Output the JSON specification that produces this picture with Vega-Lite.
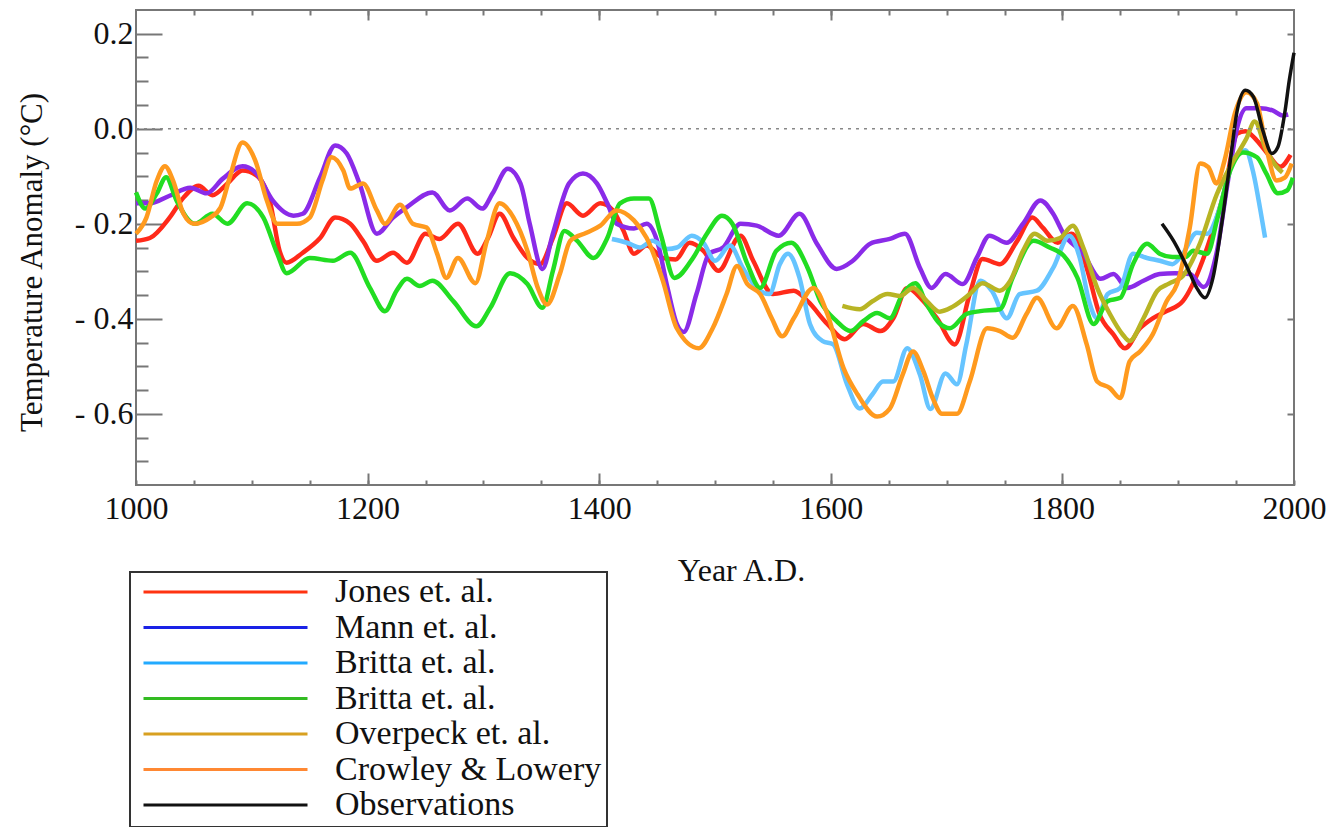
{
  "$schema": "https://vega.github.io/schema/vega-lite/v6.json",
  "width": 1158,
  "height": 475,
  "autosize": {"type": "none"},
  "padding": {"left": 136, "top": 10, "right": 42, "bottom": 342},
  "background": "white",
  "config": {
    "font": "Liberation Serif",
    "view": {"stroke": "#777777", "strokeWidth": 2},
    "axis": {
      "domain": false,
      "grid": false,
      "tickColor": "#777777",
      "tickWidth": 2,
      "labelFont": "Liberation Serif",
      "labelFontSize": 32,
      "labelColor": "#111111",
      "titleFont": "Liberation Serif",
      "titleFontWeight": "normal",
      "titleColor": "#111111"
    },
    "legend": {
      "orient": "none",
      "legendX": -6,
      "legendY": 562,
      "symbolType": "stroke",
      "symbolSize": 26896,
      "symbolStrokeWidth": 3,
      "symbolOffset": 7,
      "labelFont": "Liberation Serif, Times New Roman, serif",
      "labelFontSize": 34,
      "labelColor": "#111111",
      "labelOffset": 26,
      "labelLimit": 0,
      "clipHeight": 30,
      "rowPadding": 1.5,
      "padding": 5,
      "strokeColor": "#333333",
      "strokeWidth": 2,
      "fillColor": "white"
    }
  },
  "data": {
    "values": [
      {"series":"Jones et. al.","year":1000,"value":-0.236},{"series":"Jones et. al.","year":1012,"value":-0.23},{"series":"Jones et. al.","year":1029,"value":-0.187},{"series":"Jones et. al.","year":1041,"value":-0.145},{"series":"Jones et. al.","year":1054,"value":-0.12},{"series":"Jones et. al.","year":1066,"value":-0.14},{"series":"Jones et. al.","year":1079,"value":-0.115},{"series":"Jones et. al.","year":1092,"value":-0.088},{"series":"Jones et. al.","year":1104,"value":-0.098},{"series":"Jones et. al.","year":1116,"value":-0.157},{"series":"Jones et. al.","year":1124,"value":-0.257},{"series":"Jones et. al.","year":1130,"value":-0.282},{"series":"Jones et. al.","year":1144,"value":-0.261},{"series":"Jones et. al.","year":1159,"value":-0.23},{"series":"Jones et. al.","year":1172,"value":-0.187},{"series":"Jones et. al.","year":1185,"value":-0.2},{"series":"Jones et. al.","year":1196,"value":-0.236},{"series":"Jones et. al.","year":1208,"value":-0.278},{"series":"Jones et. al.","year":1222,"value":-0.261},{"series":"Jones et. al.","year":1234,"value":-0.282},{"series":"Jones et. al.","year":1250,"value":-0.221},{"series":"Jones et. al.","year":1262,"value":-0.232},{"series":"Jones et. al.","year":1278,"value":-0.2},{"series":"Jones et. al.","year":1295,"value":-0.263},{"series":"Jones et. al.","year":1304,"value":-0.23},{"series":"Jones et. al.","year":1314,"value":-0.179},{"series":"Jones et. al.","year":1326,"value":-0.23},{"series":"Jones et. al.","year":1338,"value":-0.272},{"series":"Jones et. al.","year":1349,"value":-0.285},{"series":"Jones et. al.","year":1360,"value":-0.23},{"series":"Jones et. al.","year":1372,"value":-0.157},{"series":"Jones et. al.","year":1386,"value":-0.183},{"series":"Jones et. al.","year":1401,"value":-0.157},{"series":"Jones et. al.","year":1412,"value":-0.172},{"series":"Jones et. al.","year":1421,"value":-0.215},{"series":"Jones et. al.","year":1430,"value":-0.263},{"series":"Jones et. al.","year":1441,"value":-0.246},{"series":"Jones et. al.","year":1455,"value":-0.272},{"series":"Jones et. al.","year":1466,"value":-0.275},{"series":"Jones et. al.","year":1478,"value":-0.24},{"series":"Jones et. al.","year":1490,"value":-0.257},{"series":"Jones et. al.","year":1503,"value":-0.299},{"series":"Jones et. al.","year":1522,"value":-0.225},{"series":"Jones et. al.","year":1533,"value":-0.278},{"series":"Jones et. al.","year":1550,"value":-0.348},{"series":"Jones et. al.","year":1568,"value":-0.341},{"series":"Jones et. al.","year":1580,"value":-0.363},{"series":"Jones et. al.","year":1597,"value":-0.411},{"series":"Jones et. al.","year":1612,"value":-0.443},{"series":"Jones et. al.","year":1628,"value":-0.411},{"series":"Jones et. al.","year":1643,"value":-0.426},{"series":"Jones et. al.","year":1654,"value":-0.399},{"series":"Jones et. al.","year":1666,"value":-0.335},{"series":"Jones et. al.","year":1680,"value":-0.363},{"series":"Jones et. al.","year":1692,"value":-0.4},{"series":"Jones et. al.","year":1707,"value":-0.454},{"series":"Jones et. al.","year":1720,"value":-0.348},{"series":"Jones et. al.","year":1731,"value":-0.274},{"series":"Jones et. al.","year":1746,"value":-0.285},{"series":"Jones et. al.","year":1761,"value":-0.236},{"series":"Jones et. al.","year":1774,"value":-0.187},{"series":"Jones et. al.","year":1783,"value":-0.208},{"series":"Jones et. al.","year":1796,"value":-0.24},{"series":"Jones et. al.","year":1808,"value":-0.221},{"series":"Jones et. al.","year":1821,"value":-0.293},{"series":"Jones et. al.","year":1832,"value":-0.39},{"series":"Jones et. al.","year":1844,"value":-0.433},{"series":"Jones et. al.","year":1854,"value":-0.462},{"series":"Jones et. al.","year":1867,"value":-0.42},{"series":"Jones et. al.","year":1878,"value":-0.399},{"series":"Jones et. al.","year":1890,"value":-0.384},{"series":"Jones et. al.","year":1904,"value":-0.363},{"series":"Jones et. al.","year":1921,"value":-0.278},{"series":"Jones et. al.","year":1929,"value":-0.221},{"series":"Jones et. al.","year":1940,"value":-0.13},{"series":"Jones et. al.","year":1951,"value":-0.01},{"series":"Jones et. al.","year":1958,"value":-0.005},{"series":"Jones et. al.","year":1968,"value":-0.025},{"series":"Jones et. al.","year":1978,"value":-0.055},{"series":"Jones et. al.","year":1988,"value":-0.08},{"series":"Jones et. al.","year":1997,"value":-0.055},

      {"series":"Mann et. al.","year":1000,"value":-0.157},{"series":"Mann et. al.","year":1012,"value":-0.157},{"series":"Mann et. al.","year":1029,"value":-0.141},{"series":"Mann et. al.","year":1047,"value":-0.124},{"series":"Mann et. al.","year":1061,"value":-0.136},{"series":"Mann et. al.","year":1075,"value":-0.105},{"series":"Mann et. al.","year":1092,"value":-0.079},{"series":"Mann et. al.","year":1104,"value":-0.094},{"series":"Mann et. al.","year":1118,"value":-0.151},{"series":"Mann et. al.","year":1136,"value":-0.183},{"series":"Mann et. al.","year":1144,"value":-0.179},{"series":"Mann et. al.","year":1159,"value":-0.102},{"series":"Mann et. al.","year":1172,"value":-0.035},{"series":"Mann et. al.","year":1182,"value":-0.052},{"series":"Mann et. al.","year":1193,"value":-0.115},{"series":"Mann et. al.","year":1208,"value":-0.221},{"series":"Mann et. al.","year":1222,"value":-0.187},{"series":"Mann et. al.","year":1234,"value":-0.165},{"series":"Mann et. al.","year":1256,"value":-0.134},{"series":"Mann et. al.","year":1271,"value":-0.172},{"series":"Mann et. al.","year":1286,"value":-0.147},{"series":"Mann et. al.","year":1299,"value":-0.168},{"series":"Mann et. al.","year":1308,"value":-0.136},{"series":"Mann et. al.","year":1321,"value":-0.084},{"series":"Mann et. al.","year":1332,"value":-0.115},{"series":"Mann et. al.","year":1340,"value":-0.2},{"series":"Mann et. al.","year":1351,"value":-0.295},{"series":"Mann et. al.","year":1360,"value":-0.221},{"series":"Mann et. al.","year":1374,"value":-0.115},{"series":"Mann et. al.","year":1386,"value":-0.094},{"series":"Mann et. al.","year":1398,"value":-0.115},{"series":"Mann et. al.","year":1407,"value":-0.157},{"series":"Mann et. al.","year":1415,"value":-0.2},{"series":"Mann et. al.","year":1430,"value":-0.21},{"series":"Mann et. al.","year":1441,"value":-0.2},{"series":"Mann et. al.","year":1450,"value":-0.236},{"series":"Mann et. al.","year":1459,"value":-0.335},{"series":"Mann et. al.","year":1467,"value":-0.411},{"series":"Mann et. al.","year":1473,"value":-0.428},{"series":"Mann et. al.","year":1484,"value":-0.348},{"series":"Mann et. al.","year":1495,"value":-0.263},{"series":"Mann et. al.","year":1507,"value":-0.25},{"series":"Mann et. al.","year":1522,"value":-0.2},{"series":"Mann et. al.","year":1536,"value":-0.204},{"series":"Mann et. al.","year":1555,"value":-0.225},{"series":"Mann et. al.","year":1573,"value":-0.179},{"series":"Mann et. al.","year":1588,"value":-0.242},{"series":"Mann et. al.","year":1605,"value":-0.295},{"series":"Mann et. al.","year":1619,"value":-0.278},{"series":"Mann et. al.","year":1634,"value":-0.242},{"series":"Mann et. al.","year":1651,"value":-0.232},{"series":"Mann et. al.","year":1664,"value":-0.221},{"series":"Mann et. al.","year":1677,"value":-0.293},{"series":"Mann et. al.","year":1687,"value":-0.335},{"series":"Mann et. al.","year":1699,"value":-0.306},{"series":"Mann et. al.","year":1714,"value":-0.327},{"series":"Mann et. al.","year":1726,"value":-0.272},{"series":"Mann et. al.","year":1737,"value":-0.225},{"series":"Mann et. al.","year":1752,"value":-0.24},{"series":"Mann et. al.","year":1766,"value":-0.2},{"series":"Mann et. al.","year":1781,"value":-0.151},{"series":"Mann et. al.","year":1792,"value":-0.179},{"series":"Mann et. al.","year":1801,"value":-0.221},{"series":"Mann et. al.","year":1818,"value":-0.263},{"series":"Mann et. al.","year":1833,"value":-0.316},{"series":"Mann et. al.","year":1844,"value":-0.306},{"series":"Mann et. al.","year":1856,"value":-0.335},{"series":"Mann et. al.","year":1870,"value":-0.32},{"series":"Mann et. al.","year":1884,"value":-0.306},{"series":"Mann et. al.","year":1897,"value":-0.304},{"series":"Mann et. al.","year":1910,"value":-0.306},{"series":"Mann et. al.","year":1922,"value":-0.333},{"series":"Mann et. al.","year":1933,"value":-0.263},{"series":"Mann et. al.","year":1943,"value":-0.109},{"series":"Mann et. al.","year":1951,"value":0.003},{"series":"Mann et. al.","year":1959,"value":0.043},{"series":"Mann et. al.","year":1971,"value":0.043},{"series":"Mann et. al.","year":1982,"value":0.038},{"series":"Mann et. al.","year":1990,"value":0.028},{"series":"Mann et. al.","year":1995,"value":0.03},

      {"series":"Britta et. al. A","year":1411,"value":-0.232},{"series":"Britta et. al. A","year":1424,"value":-0.24},{"series":"Britta et. al. A","year":1435,"value":-0.25},{"series":"Britta et. al. A","year":1446,"value":-0.236},{"series":"Britta et. al. A","year":1459,"value":-0.253},{"series":"Britta et. al. A","year":1467,"value":-0.25},{"series":"Britta et. al. A","year":1480,"value":-0.225},{"series":"Britta et. al. A","year":1490,"value":-0.24},{"series":"Britta et. al. A","year":1500,"value":-0.278},{"series":"Britta et. al. A","year":1513,"value":-0.246},{"series":"Britta et. al. A","year":1524,"value":-0.293},{"series":"Britta et. al. A","year":1536,"value":-0.335},{"series":"Britta et. al. A","year":1547,"value":-0.348},{"series":"Britta et. al. A","year":1556,"value":-0.285},{"series":"Britta et. al. A","year":1563,"value":-0.263},{"series":"Britta et. al. A","year":1573,"value":-0.314},{"series":"Britta et. al. A","year":1582,"value":-0.411},{"series":"Britta et. al. A","year":1593,"value":-0.447},{"series":"Britta et. al. A","year":1602,"value":-0.454},{"series":"Britta et. al. A","year":1614,"value":-0.538},{"series":"Britta et. al. A","year":1625,"value":-0.589},{"series":"Britta et. al. A","year":1636,"value":-0.559},{"series":"Britta et. al. A","year":1645,"value":-0.532},{"series":"Britta et. al. A","year":1654,"value":-0.532},{"series":"Britta et. al. A","year":1666,"value":-0.462},{"series":"Britta et. al. A","year":1677,"value":-0.518},{"series":"Britta et. al. A","year":1686,"value":-0.59},{"series":"Britta et. al. A","year":1699,"value":-0.515},{"series":"Britta et. al. A","year":1709,"value":-0.538},{"series":"Britta et. al. A","year":1717,"value":-0.454},{"series":"Britta et. al. A","year":1729,"value":-0.32},{"series":"Britta et. al. A","year":1739,"value":-0.341},{"series":"Britta et. al. A","year":1752,"value":-0.399},{"series":"Britta et. al. A","year":1763,"value":-0.348},{"series":"Britta et. al. A","year":1778,"value":-0.341},{"series":"Britta et. al. A","year":1792,"value":-0.293},{"series":"Britta et. al. A","year":1806,"value":-0.225},{"series":"Britta et. al. A","year":1815,"value":-0.272},{"series":"Britta et. al. A","year":1823,"value":-0.363},{"series":"Britta et. al. A","year":1830,"value":-0.399},{"series":"Britta et. al. A","year":1839,"value":-0.348},{"series":"Britta et. al. A","year":1850,"value":-0.335},{"series":"Britta et. al. A","year":1861,"value":-0.263},{"series":"Britta et. al. A","year":1873,"value":-0.272},{"series":"Britta et. al. A","year":1884,"value":-0.278},{"series":"Britta et. al. A","year":1895,"value":-0.285},{"series":"Britta et. al. A","year":1904,"value":-0.263},{"series":"Britta et. al. A","year":1916,"value":-0.219},{"series":"Britta et. al. A","year":1925,"value":-0.221},{"series":"Britta et. al. A","year":1936,"value":-0.166},{"series":"Britta et. al. A","year":1947,"value":-0.067},{"series":"Britta et. al. A","year":1958,"value":-0.045},{"series":"Britta et. al. A","year":1965,"value":-0.094},{"series":"Britta et. al. A","year":1971,"value":-0.172},{"series":"Britta et. al. A","year":1975,"value":-0.229},

      {"series":"Britta et. al. B","year":1000,"value":-0.134},{"series":"Britta et. al. B","year":1008,"value":-0.168},{"series":"Britta et. al. B","year":1018,"value":-0.136},{"series":"Britta et. al. B","year":1026,"value":-0.102},{"series":"Britta et. al. B","year":1035,"value":-0.151},{"series":"Britta et. al. B","year":1051,"value":-0.2},{"series":"Britta et. al. B","year":1066,"value":-0.179},{"series":"Britta et. al. B","year":1079,"value":-0.2},{"series":"Britta et. al. B","year":1096,"value":-0.157},{"series":"Britta et. al. B","year":1110,"value":-0.187},{"series":"Britta et. al. B","year":1122,"value":-0.263},{"series":"Britta et. al. B","year":1130,"value":-0.304},{"series":"Britta et. al. B","year":1150,"value":-0.272},{"series":"Britta et. al. B","year":1170,"value":-0.278},{"series":"Britta et. al. B","year":1185,"value":-0.261},{"series":"Britta et. al. B","year":1202,"value":-0.335},{"series":"Britta et. al. B","year":1215,"value":-0.384},{"series":"Britta et. al. B","year":1225,"value":-0.341},{"series":"Britta et. al. B","year":1234,"value":-0.316},{"series":"Britta et. al. B","year":1245,"value":-0.331},{"series":"Britta et. al. B","year":1256,"value":-0.32},{"series":"Britta et. al. B","year":1274,"value":-0.363},{"series":"Britta et. al. B","year":1294,"value":-0.416},{"series":"Britta et. al. B","year":1306,"value":-0.377},{"series":"Britta et. al. B","year":1323,"value":-0.304},{"series":"Britta et. al. B","year":1338,"value":-0.327},{"series":"Britta et. al. B","year":1351,"value":-0.377},{"series":"Britta et. al. B","year":1360,"value":-0.299},{"series":"Britta et. al. B","year":1370,"value":-0.215},{"series":"Britta et. al. B","year":1381,"value":-0.236},{"series":"Britta et. al. B","year":1395,"value":-0.272},{"series":"Britta et. al. B","year":1407,"value":-0.23},{"series":"Britta et. al. B","year":1418,"value":-0.157},{"series":"Britta et. al. B","year":1430,"value":-0.147},{"series":"Britta et. al. B","year":1443,"value":-0.147},{"series":"Britta et. al. B","year":1453,"value":-0.221},{"series":"Britta et. al. B","year":1465,"value":-0.314},{"series":"Britta et. al. B","year":1481,"value":-0.272},{"series":"Britta et. al. B","year":1493,"value":-0.221},{"series":"Britta et. al. B","year":1506,"value":-0.183},{"series":"Britta et. al. B","year":1515,"value":-0.2},{"series":"Britta et. al. B","year":1528,"value":-0.285},{"series":"Britta et. al. B","year":1539,"value":-0.335},{"series":"Britta et. al. B","year":1553,"value":-0.257},{"series":"Britta et. al. B","year":1566,"value":-0.24},{"series":"Britta et. al. B","year":1580,"value":-0.293},{"series":"Britta et. al. B","year":1591,"value":-0.363},{"series":"Britta et. al. B","year":1605,"value":-0.405},{"series":"Britta et. al. B","year":1617,"value":-0.426},{"series":"Britta et. al. B","year":1628,"value":-0.405},{"series":"Britta et. al. B","year":1640,"value":-0.388},{"series":"Britta et. al. B","year":1651,"value":-0.399},{"series":"Britta et. al. B","year":1662,"value":-0.348},{"series":"Britta et. al. B","year":1673,"value":-0.325},{"series":"Britta et. al. B","year":1683,"value":-0.37},{"series":"Britta et. al. B","year":1694,"value":-0.41},{"series":"Britta et. al. B","year":1703,"value":-0.42},{"series":"Britta et. al. B","year":1717,"value":-0.39},{"series":"Britta et. al. B","year":1729,"value":-0.384},{"series":"Britta et. al. B","year":1746,"value":-0.38},{"series":"Britta et. al. B","year":1757,"value":-0.314},{"series":"Britta et. al. B","year":1775,"value":-0.236},{"series":"Britta et. al. B","year":1789,"value":-0.25},{"series":"Britta et. al. B","year":1801,"value":-0.267},{"series":"Britta et. al. B","year":1813,"value":-0.314},{"series":"Britta et. al. B","year":1827,"value":-0.411},{"series":"Britta et. al. B","year":1839,"value":-0.363},{"series":"Britta et. al. B","year":1850,"value":-0.356},{"series":"Britta et. al. B","year":1861,"value":-0.285},{"series":"Britta et. al. B","year":1873,"value":-0.242},{"series":"Britta et. al. B","year":1884,"value":-0.263},{"series":"Britta et. al. B","year":1895,"value":-0.27},{"series":"Britta et. al. B","year":1906,"value":-0.27},{"series":"Britta et. al. B","year":1913,"value":-0.257},{"series":"Britta et. al. B","year":1925,"value":-0.263},{"series":"Britta et. al. B","year":1934,"value":-0.187},{"series":"Britta et. al. B","year":1945,"value":-0.088},{"series":"Britta et. al. B","year":1956,"value":-0.05},{"series":"Britta et. al. B","year":1968,"value":-0.06},{"series":"Britta et. al. B","year":1976,"value":-0.094},{"series":"Britta et. al. B","year":1986,"value":-0.136},{"series":"Britta et. al. B","year":1994,"value":-0.13},{"series":"Britta et. al. B","year":1999,"value":-0.103},

      {"series":"Overpeck et. al.","year":1610,"value":-0.373},{"series":"Overpeck et. al.","year":1625,"value":-0.38},{"series":"Overpeck et. al.","year":1636,"value":-0.363},{"series":"Overpeck et. al.","year":1649,"value":-0.348},{"series":"Overpeck et. al.","year":1660,"value":-0.352},{"series":"Overpeck et. al.","year":1671,"value":-0.335},{"series":"Overpeck et. al.","year":1683,"value":-0.363},{"series":"Overpeck et. al.","year":1694,"value":-0.385},{"series":"Overpeck et. al.","year":1705,"value":-0.375},{"series":"Overpeck et. al.","year":1720,"value":-0.348},{"series":"Overpeck et. al.","year":1731,"value":-0.325},{"series":"Overpeck et. al.","year":1746,"value":-0.341},{"series":"Overpeck et. al.","year":1755,"value":-0.32},{"series":"Overpeck et. al.","year":1766,"value":-0.257},{"series":"Overpeck et. al.","year":1776,"value":-0.221},{"series":"Overpeck et. al.","year":1787,"value":-0.236},{"series":"Overpeck et. al.","year":1798,"value":-0.23},{"series":"Overpeck et. al.","year":1809,"value":-0.204},{"series":"Overpeck et. al.","year":1818,"value":-0.25},{"series":"Overpeck et. al.","year":1830,"value":-0.335},{"series":"Overpeck et. al.","year":1841,"value":-0.39},{"series":"Overpeck et. al.","year":1852,"value":-0.433},{"series":"Overpeck et. al.","year":1858,"value":-0.447},{"series":"Overpeck et. al.","year":1870,"value":-0.399},{"series":"Overpeck et. al.","year":1882,"value":-0.341},{"series":"Overpeck et. al.","year":1892,"value":-0.326},{"series":"Overpeck et. al.","year":1904,"value":-0.31},{"series":"Overpeck et. al.","year":1919,"value":-0.24},{"series":"Overpeck et. al.","year":1933,"value":-0.14},{"series":"Overpeck et. al.","year":1947,"value":-0.07},{"series":"Overpeck et. al.","year":1959,"value":-0.02},{"series":"Overpeck et. al.","year":1966,"value":0.015},{"series":"Overpeck et. al.","year":1976,"value":-0.045},{"series":"Overpeck et. al.","year":1985,"value":-0.08},{"series":"Overpeck et. al.","year":1990,"value":-0.092},

      {"series":"Crowley & Lowery","year":1000,"value":-0.221},{"series":"Crowley & Lowery","year":1009,"value":-0.187},{"series":"Crowley & Lowery","year":1018,"value":-0.109},{"series":"Crowley & Lowery","year":1025,"value":-0.079},{"series":"Crowley & Lowery","year":1032,"value":-0.109},{"series":"Crowley & Lowery","year":1041,"value":-0.179},{"series":"Crowley & Lowery","year":1050,"value":-0.2},{"series":"Crowley & Lowery","year":1064,"value":-0.187},{"series":"Crowley & Lowery","year":1073,"value":-0.166},{"series":"Crowley & Lowery","year":1081,"value":-0.102},{"series":"Crowley & Lowery","year":1092,"value":-0.029},{"series":"Crowley & Lowery","year":1103,"value":-0.067},{"series":"Crowley & Lowery","year":1113,"value":-0.151},{"series":"Crowley & Lowery","year":1122,"value":-0.2},{"series":"Crowley & Lowery","year":1139,"value":-0.2},{"series":"Crowley & Lowery","year":1150,"value":-0.187},{"series":"Crowley & Lowery","year":1161,"value":-0.109},{"series":"Crowley & Lowery","year":1169,"value":-0.06},{"series":"Crowley & Lowery","year":1179,"value":-0.088},{"series":"Crowley & Lowery","year":1185,"value":-0.126},{"series":"Crowley & Lowery","year":1196,"value":-0.115},{"series":"Crowley & Lowery","year":1208,"value":-0.172},{"series":"Crowley & Lowery","year":1215,"value":-0.2},{"series":"Crowley & Lowery","year":1228,"value":-0.16},{"series":"Crowley & Lowery","year":1239,"value":-0.2},{"series":"Crowley & Lowery","year":1251,"value":-0.208},{"series":"Crowley & Lowery","year":1260,"value":-0.263},{"series":"Crowley & Lowery","year":1268,"value":-0.314},{"series":"Crowley & Lowery","year":1278,"value":-0.272},{"series":"Crowley & Lowery","year":1293,"value":-0.325},{"series":"Crowley & Lowery","year":1303,"value":-0.236},{"series":"Crowley & Lowery","year":1314,"value":-0.157},{"series":"Crowley & Lowery","year":1326,"value":-0.187},{"series":"Crowley & Lowery","year":1338,"value":-0.257},{"series":"Crowley & Lowery","year":1347,"value":-0.335},{"series":"Crowley & Lowery","year":1355,"value":-0.37},{"series":"Crowley & Lowery","year":1366,"value":-0.306},{"series":"Crowley & Lowery","year":1375,"value":-0.236},{"series":"Crowley & Lowery","year":1389,"value":-0.219},{"series":"Crowley & Lowery","year":1401,"value":-0.204},{"series":"Crowley & Lowery","year":1415,"value":-0.172},{"series":"Crowley & Lowery","year":1430,"value":-0.193},{"series":"Crowley & Lowery","year":1441,"value":-0.23},{"series":"Crowley & Lowery","year":1455,"value":-0.32},{"series":"Crowley & Lowery","year":1467,"value":-0.42},{"series":"Crowley & Lowery","year":1486,"value":-0.462},{"series":"Crowley & Lowery","year":1498,"value":-0.42},{"series":"Crowley & Lowery","year":1510,"value":-0.348},{"series":"Crowley & Lowery","year":1519,"value":-0.289},{"series":"Crowley & Lowery","year":1528,"value":-0.327},{"series":"Crowley & Lowery","year":1539,"value":-0.348},{"series":"Crowley & Lowery","year":1549,"value":-0.399},{"series":"Crowley & Lowery","year":1558,"value":-0.437},{"series":"Crowley & Lowery","year":1568,"value":-0.399},{"series":"Crowley & Lowery","year":1585,"value":-0.335},{"series":"Crowley & Lowery","year":1597,"value":-0.39},{"series":"Crowley & Lowery","year":1611,"value":-0.504},{"series":"Crowley & Lowery","year":1623,"value":-0.559},{"series":"Crowley & Lowery","year":1640,"value":-0.606},{"series":"Crowley & Lowery","year":1651,"value":-0.589},{"series":"Crowley & Lowery","year":1662,"value":-0.518},{"series":"Crowley & Lowery","year":1671,"value":-0.469},{"series":"Crowley & Lowery","year":1680,"value":-0.511},{"series":"Crowley & Lowery","year":1688,"value":-0.567},{"series":"Crowley & Lowery","year":1696,"value":-0.6},{"series":"Crowley & Lowery","year":1709,"value":-0.6},{"series":"Crowley & Lowery","year":1720,"value":-0.532},{"series":"Crowley & Lowery","year":1735,"value":-0.42},{"series":"Crowley & Lowery","year":1746,"value":-0.426},{"series":"Crowley & Lowery","year":1757,"value":-0.44},{"series":"Crowley & Lowery","year":1769,"value":-0.39},{"series":"Crowley & Lowery","year":1778,"value":-0.356},{"series":"Crowley & Lowery","year":1795,"value":-0.42},{"series":"Crowley & Lowery","year":1809,"value":-0.373},{"series":"Crowley & Lowery","year":1821,"value":-0.454},{"series":"Crowley & Lowery","year":1830,"value":-0.532},{"series":"Crowley & Lowery","year":1841,"value":-0.546},{"series":"Crowley & Lowery","year":1850,"value":-0.567},{"series":"Crowley & Lowery","year":1858,"value":-0.49},{"series":"Crowley & Lowery","year":1867,"value":-0.469},{"series":"Crowley & Lowery","year":1878,"value":-0.433},{"series":"Crowley & Lowery","year":1890,"value":-0.363},{"series":"Crowley & Lowery","year":1899,"value":-0.327},{"series":"Crowley & Lowery","year":1910,"value":-0.208},{"series":"Crowley & Lowery","year":1919,"value":-0.073},{"series":"Crowley & Lowery","year":1926,"value":-0.081},{"series":"Crowley & Lowery","year":1933,"value":-0.115},{"series":"Crowley & Lowery","year":1940,"value":-0.067},{"series":"Crowley & Lowery","year":1949,"value":0.033},{"series":"Crowley & Lowery","year":1959,"value":0.077},{"series":"Crowley & Lowery","year":1968,"value":0.054},{"series":"Crowley & Lowery","year":1976,"value":-0.039},{"series":"Crowley & Lowery","year":1985,"value":-0.109},{"series":"Crowley & Lowery","year":1992,"value":-0.103},{"series":"Crowley & Lowery","year":1998,"value":-0.073},

      {"series":"Observations","year":1886,"value":-0.2},{"series":"Observations","year":1896,"value":-0.236},{"series":"Observations","year":1908,"value":-0.293},{"series":"Observations","year":1916,"value":-0.335},{"series":"Observations","year":1923,"value":-0.356},{"series":"Observations","year":1930,"value":-0.314},{"series":"Observations","year":1938,"value":-0.193},{"series":"Observations","year":1945,"value":-0.067},{"series":"Observations","year":1951,"value":0.039},{"series":"Observations","year":1958,"value":0.081},{"series":"Observations","year":1965,"value":0.067},{"series":"Observations","year":1973,"value":-0.003},{"series":"Observations","year":1981,"value":-0.052},{"series":"Observations","year":1986,"value":-0.039},{"series":"Observations","year":1992,"value":0.033},{"series":"Observations","year":1996,"value":0.103},{"series":"Observations","year":2000,"value":0.16}
    ]
  },
  "layer": [
    {
      "transform": [{"filter": "datum.series === 'Jones et. al.' || datum.series === 'Mann et. al.' || datum.series === 'Britta et. al. A' || datum.series === 'Britta et. al. B'"}],
      "mark": {"type": "line", "strokeWidth": 4.5, "interpolate": "monotone"},
      "encoding": {
        "x": {
          "field": "year", "type": "quantitative",
          "scale": {"domain": [1000, 2000], "nice": false, "zero": false},
          "axis": {
            "orient": "bottom",
            "values": [1000,1050,1100,1150,1200,1250,1300,1350,1400,1450,1500,1550,1600,1650,1700,1750,1800,1850,1900,1950,2000],
            "tickSize": -5,
            "format": "d",
            "labelExpr": "datum.value % 200 === 0 ? datum.label : ''",
            "labelPadding": 38,
            "labelBaseline": "alphabetic",
            "labelFlush": false,
            "labelOverlap": false,
            "title": "Year A.D.",
            "titleFontSize": 32,
            "titleX": 605,
            "titleY": 95,
            "titleAlign": "center",
            "titleBaseline": "alphabetic"
          }
        },
        "y": {
          "field": "value", "type": "quantitative",
          "scale": {"domain": [-0.75, 0.25], "nice": false, "zero": false},
          "axis": {
            "orient": "left",
            "values": [0.2, 0, -0.2, -0.4, -0.6],
            "tickSize": -26,
            "labelPadding": 29,
            "labelBaseline": "middle",
            "labelExpr": "datum.value < -0.001 ? '- ' + format(-datum.value, '.1f') : format(datum.value, '.1f')",
            "title": "Temperature Anomaly (°C)",
            "titleFontSize": 31,
            "titleAngle": 270,
            "titleX": -88,
            "titleY": 252,
            "titleAlign": "center",
            "titleBaseline": "bottom"
          }
        },
        "stroke": {
          "field": "series", "type": "nominal",
          "scale": {
            "domain": ["Jones et. al.", "Mann et. al.", "Britta et. al. A", "Britta et. al. B", "Overpeck et. al.", "Crowley & Lowery"],
            "range": ["#ff2a1a", "#8a2be8", "#66c4ff", "#22dd22", "#b8b424", "#ff9a1e"]
          },
          "legend": null
        }
      }
    },
    {
      "transform": [{"filter": "datum.series === 'Overpeck et. al.' || datum.series === 'Crowley & Lowery'"}],
      "mark": {"type": "line", "strokeWidth": 4.5, "interpolate": "monotone"},
      "encoding": {
        "x": {
          "field": "year", "type": "quantitative",
          "axis": {"orient": "top", "values": [1200, 1400, 1600, 1800], "tickSize": -10, "labels": false, "title": null}
        },
        "y": {"field": "value", "type": "quantitative", "axis": null},
        "stroke": {"field": "series", "type": "nominal", "legend": null}
      }
    },
    {
      "transform": [{"filter": "datum.series === 'Observations'"}],
      "mark": {"type": "line", "strokeWidth": 3.5, "interpolate": "monotone"},
      "encoding": {
        "x": {
          "field": "year", "type": "quantitative",
          "axis": {"orient": "bottom", "values": [1200, 1400, 1600, 1800], "tickSize": -12, "labels": false, "title": null}
        },
        "y": {
          "field": "value", "type": "quantitative",
          "axis": {"orient": "left", "values": [0.15, 0.1, 0.05, -0.05, -0.1, -0.15, -0.25, -0.3, -0.35, -0.45, -0.5, -0.55, -0.65, -0.7], "tickSize": -12, "labels": false, "title": null}
        },
        "color": {
          "field": "series", "type": "nominal",
          "scale": {
            "domain": ["Jones et. al.", "Mann et. al.", "Britta et. al. A", "Britta et. al. B", "Overpeck et. al.", "Crowley & Lowery", "Observations"],
            "range": ["#ff3311", "#1a22e6", "#22aaff", "#33bb22", "#d8a020", "#ff8833", "#111111"]
          },
          "legend": {
            "title": null,
            "labelFont": "Liberation Serif, Times New Roman, serif",
            "labelExpr": "indexof(datum.label, 'Britta') === 0 ? 'Britta et. al.' : datum.label"
          }
        }
      }
    },
    {
      "data": {"values": [{"start": 1000, "end": 2000, "level": 0}]},
      "mark": {"type": "rule", "color": "#888888", "strokeWidth": 1.5, "strokeDash": [3, 5]},
      "encoding": {
        "x": {
          "field": "start", "type": "quantitative",
          "axis": {"orient": "top", "values": [1050,1100,1150,1200,1250,1300,1350,1400,1450,1500,1550,1600,1650,1700,1750,1800,1850,1900,1950], "tickSize": -5, "labels": false, "title": null}
        },
        "x2": {"field": "end"},
        "y": {
          "field": "level", "type": "quantitative",
          "axis": {"orient": "right", "values": [0.2, 0, -0.2, -0.4, -0.6], "tickSize": -7, "labels": false, "title": null}
        }
      }
    }
  ],
  "resolve": {"axis": {"x": "independent", "y": "independent"}}
}
